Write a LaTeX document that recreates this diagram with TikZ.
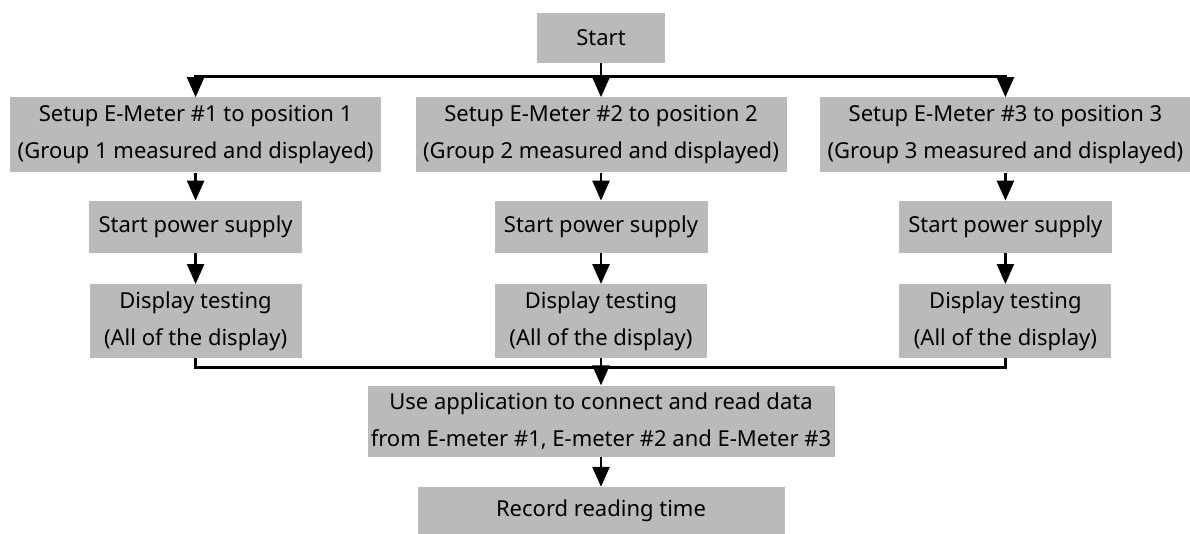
\documentclass[tikz,border=0pt]{standalone}
\usepackage{fontspec}
\setmainfont{Noto Sans}
\usetikzlibrary{positioning,arrows.meta}

\begin{document}
\begin{tikzpicture}[x=1pt,y=1pt,
        box/.style={fill=black!27, align=center, inner sep=0pt, font=\fontsize{22}{37}\selectfont},
        ln/.style={line width=2.6pt},
        arr/.style={ln, -{Triangle[width=17pt,length=20pt]}}]
                \useasboundingbox (0,0) rectangle (1190,-533);
                \node[box, minimum width=128pt, minimum height=50pt] (start) at (601,-38) {Start};
                \node[box, minimum width=371pt, minimum height=75pt, below=34pt of start] (set2) {Setup E-Meter \#2 to position 2\\(Group 2 measured and displayed)};
                \node[box, minimum width=371pt, minimum height=75pt, left=34pt of set2]   (set1) {Setup E-Meter \#1 to position 1\\(Group 1 measured and displayed)};
                \node[box, minimum width=371pt, minimum height=75pt, right=33pt of set2]  (set3) {Setup E-Meter \#3 to position 3\\(Group 3 measured and displayed)};
                \node[box, minimum width=213pt, minimum height=52pt, below=28pt of set1]  (pow1) {Start power supply};
                \node[box, minimum width=213pt, minimum height=52pt, below=28pt of set2]  (pow2) {Start power supply};
                \node[box, minimum width=213pt, minimum height=52pt, below=28pt of set3]  (pow3) {Start power supply};
                \node[box, minimum width=212pt, minimum height=74pt, below=31pt of pow1]  (disp1) {Display testing\\(All of the display)};
                \node[box, minimum width=212pt, minimum height=74pt, below=31pt of pow2]  (disp2) {Display testing\\(All of the display)};
                \node[box, minimum width=212pt, minimum height=74pt, below=31pt of pow3]  (disp3) {Display testing\\(All of the display)};
                \node[box, minimum width=467pt, minimum height=71pt, below=27pt of disp2] (use) {Use application to connect and read data\\from E-meter \#1, E-meter \#2 and E-Meter \#3};
                \node[box, minimum width=367pt, minimum height=48pt, below=30pt of use]   (rec) {Record reading time};

                \path (start.south) ++(0,-13) coordinate (split);
                \path (disp2.south) ++(0,-9) coordinate (merge);

                \draw[ln]  (start) -- (split);
                \draw[arr] (split) -- (set2);
                \draw[arr] (split) -| (set1);
                \draw[arr] (split) -| (set3);
                \foreach \i in {1,2,3} {
                    \draw[arr] (set\i) -- (pow\i);
                    \draw[arr] (pow\i) -- (disp\i);
                }
                \draw[ln]  (disp1) |- (merge) -| (disp3);
                \draw[ln]  (disp2) -- (merge);
                \draw[arr] (merge) -- (use);
                \draw[arr] (use) -- (rec);
\end{tikzpicture}
\end{document}
